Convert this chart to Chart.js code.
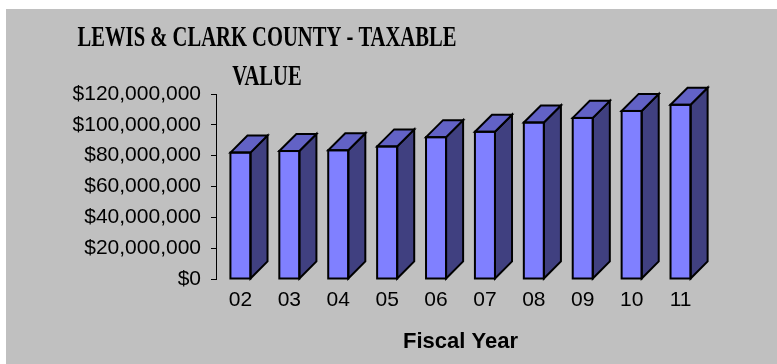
<!DOCTYPE html>
<html>
<head>
<meta charset="utf-8">
<title>Lewis &amp; Clark County - Taxable Value</title>
<script src="https://cdn.jsdelivr.net/npm/chart.js@4.4.0/dist/chart.umd.min.js"></script>
<style>
  html, body { margin: 0; padding: 0; background: #fff; }
  #wrap { position: absolute; left: 6px; top: 9px; width: 771px; height: 355px; background: #c0c0c0; }
</style>
</head>
<body>
<div id="wrap"><canvas id="taxChart"></canvas></div>
<script>
'use strict';

// ── DATA ──
const YEARS   = ['02', '03', '04', '05', '06', '07', '08', '09', '10', '11'];
const TAXABLE = [82000000, 83000000, 83500000, 86000000, 92000000, 95500000, 101500000, 104500000, 109000000, 113000000];
const TITLE_LINES = ['LEWIS & CLARK COUNTY - TAXABLE', 'VALUE'];
const Y_MIN = 0, Y_MAX = 120000000, Y_STEP = 20000000;

// ── COLOURS ──
const FRONT = '#8080ff';
const SIDE  = '#404080';
const TOP   = '#6262c6';
const SANS  = "'Liberation Sans', Arial, sans-serif";

// ── 3D COLUMN FACES (side + top on each bar) ──
const columns3d = {
  id: 'columns3d',
  afterDatasetsDraw(chart) {
    const ctx = chart.ctx;
    const poly = (pts, fill) => {
      ctx.beginPath();
      pts.forEach(([px, py], i) => i ? ctx.lineTo(px, py) : ctx.moveTo(px, py));
      ctx.closePath();
      ctx.fillStyle = fill;
      ctx.fill();
      ctx.stroke();
    };
    ctx.save();
    ctx.lineWidth = 2;
    ctx.strokeStyle = '#000';
    ctx.lineJoin = 'miter';
    chart.getDatasetMeta(0).data.forEach(bar => {
      const { x, y, base, width } = bar.getProps(['x', 'y', 'base', 'width'], true);
      const l = x - width / 2, r = x + width / 2, d = width * 0.85;
      poly([[r, y], [r + d, y - d], [r + d, base - d], [r, base]], SIDE);
      poly([[l, y], [l + d, y - d], [r + d, y - d], [r, y]], TOP);
      ctx.strokeRect(l, y, width, base - y);
    });
    ctx.restore();
  }
};

// ── TITLE (condensed serif, two lines) ──
const squeezedTitle = {
  id: 'squeezedTitle',
  afterDraw(chart) {
    const ctx = chart.ctx;
    ctx.save();
    ctx.font = "bold 29px 'Liberation Serif', 'Times New Roman', serif";
    ctx.fillStyle = '#000';
    ctx.textAlign = 'center';
    ctx.textBaseline = 'alphabetic';
    TITLE_LINES.forEach((line, i) => {
      ctx.save();
      ctx.translate(261, 37 + i * 39);
      ctx.scale(0.71, 1);
      ctx.fillText(line, 0, 0);
      ctx.restore();
    });
    ctx.restore();
  }
};

new Chart(document.getElementById('taxChart'), {
  type: 'bar',
  data: {
    labels: YEARS,
    datasets: [{
      label: 'Taxable Value',
      data: TAXABLE,
      backgroundColor: FRONT,
      borderWidth: 0,
      barPercentage: 0.41,
      categoryPercentage: 1
    }]
  },
  options: {
    responsive: true,
    maintainAspectRatio: false,
    animation: false,
    layout: { padding: { left: 0, right: 72, top: 85, bottom: 0 } },
    plugins: { legend: { display: false }, tooltip: { enabled: false } },
    scales: {
      x: {
        grid: { display: false, drawTicks: false },
        border: { display: false },
        ticks: { color: '#000', font: { family: SANS, size: 21 }, padding: 9, maxRotation: 0 },
        title: { display: true, text: 'Fiscal Year', color: '#000', font: { family: SANS, size: 22, weight: 'bold' }, padding: { top: 0, bottom: 9 } },
        afterFit: s => { s.height = 85; }
      },
      y: {
        min: Y_MIN, max: Y_MAX,
        ticks: { stepSize: Y_STEP, color: '#000', font: { family: SANS, size: 21 }, padding: 10,
                 callback: v => '$' + v.toLocaleString('en-US') },
        grid: { drawOnChartArea: false, color: '#000', tickLength: 5, lineWidth: 1 },
        border: { color: '#000', width: 1 },
        afterFit: s => { s.width = 210; }
      }
    }
  },
  plugins: [columns3d, squeezedTitle]
});
</script>
</body>
</html>
